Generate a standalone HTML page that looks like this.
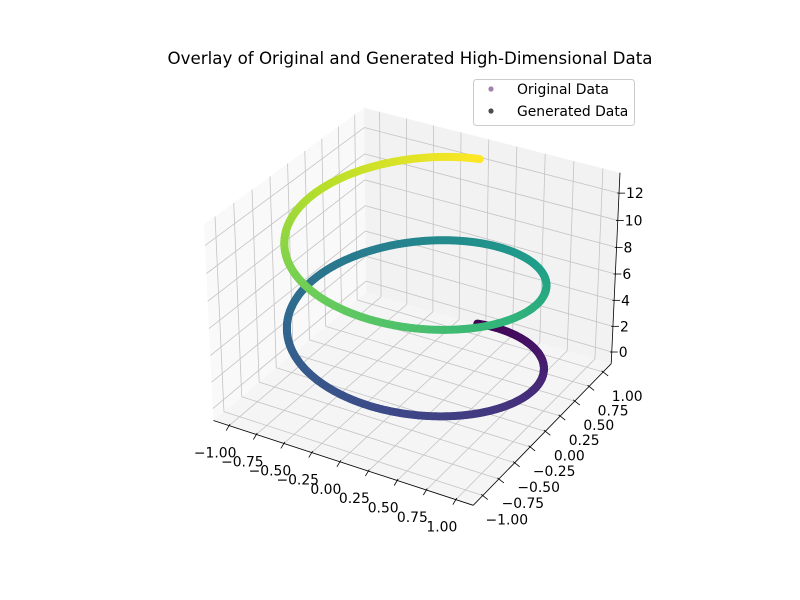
<!DOCTYPE html>
<html><head><meta charset="utf-8"><style>
html,body{margin:0;padding:0;background:#fff;}
svg{display:block;font-family:"DejaVu Sans","Liberation Sans",sans-serif;}
</style></head><body>
<svg id="chart" width="800" height="600" viewBox="0 0 800 600">
<rect width="800" height="600" fill="#fff"/>
<text x="410" y="64" text-anchor="middle" font-size="16.67" fill="#000">Overlay of Original and Generated High-Dimensional Data</text>
<g id="panes"></g>
<g id="grid"></g>
<g id="axes"></g>
<g id="points"></g>
<g>
<rect x="473.5" y="79.5" width="161" height="46" rx="3" fill="#fff" fill-opacity="0.8" stroke="#ccc"/>
<circle cx="491" cy="89" r="2.6" fill="#440154" fill-opacity="0.5"/>
<text x="517" y="94" font-size="13.9">Original Data</text>
<circle cx="491" cy="111" r="2.6" fill="#000" fill-opacity="0.7"/>
<text x="517" y="116" font-size="13.9">Generated Data</text>
</g>
</svg>
<script>
const xTicks = [-1, -0.75, -0.5, -0.25, 0, 0.25, 0.5, 0.75, 1];
const yTicks = [-1, -0.75, -0.5, -0.25, 0, 0.25, 0.5, 0.75, 1];
const zTicks = [0, 2, 4, 6, 8, 10, 12];
const xTickLabels = ["\u22121.00","\u22120.75","\u22120.50","\u22120.25","0.00","0.25","0.50","0.75","1.00"];
const yTickLabels = ["\u22121.00","\u22120.75","\u22120.50","\u22120.25","0.00","0.25","0.50","0.75","1.00"];
const zTickLabels = ["0","2","4","6","8","10","12"];
const tStart = 0;
const tEnd = 4 * Math.PI;
const nPoints = 1200;
const viridis = ["#440154","#482878","#3e4989","#31688e","#26828e","#1f9e89","#35b779","#6ece58","#b5de2b","#fde725"];

const NS = "http://www.w3.org/2000/svg";
const xlim = [-1.1, 1.1], ylim = [-1.1, 1.1], zlim = [tStart - 0.05*(tEnd-tStart), tEnd + 0.05*(tEnd-tStart)];
const asp = [4,4,3]; const nrm = Math.hypot(4,4,3);
const A = asp.map(a => a*1.8294640721620434/nrm);
const R = A.map(a => a/2);
const el = 30*Math.PI/180, az = -60*Math.PI/180;
const w = [Math.cos(el)*Math.cos(az), Math.cos(el)*Math.sin(az), Math.sin(el)];
let u = [-w[1], w[0], 0]; const un = Math.hypot(u[0],u[1]); u = u.map(c=>c/un);
const v = [w[1]*u[2]-w[2]*u[1], w[2]*u[0]-w[0]*u[2], w[0]*u[1]-w[1]*u[0]];
const S = 2500, CX = 416, CY = 297;
function proj(x,y,z){
  const d = [(x-xlim[0])/(xlim[1]-xlim[0])*A[0]-R[0], (y-ylim[0])/(ylim[1]-ylim[0])*A[1]-R[1], (z-zlim[0])/(zlim[1]-zlim[0])*A[2]-R[2]];
  const xv = u[0]*d[0]+u[1]*d[1]+u[2]*d[2];
  const yv = v[0]*d[0]+v[1]*d[1]+v[2]*d[2];
  const zv = w[0]*d[0]+w[1]*d[1]+w[2]*d[2] - 10;
  return [CX + S*xv/(-zv), CY - S*yv/(-zv), zv];
}
const dx = (xlim[1]-xlim[0])/48, dy = (ylim[1]-ylim[0])/48, dz = (zlim[1]-zlim[0])/48;
const X0 = xlim[0]-dx, X1 = xlim[1]+dx, Y0 = ylim[0]-dy, Y1 = ylim[1]+dy, Z0 = zlim[0]-dz, Z1 = zlim[1]+dz;
function poly(g, pts, fill, name){
  const p = document.createElementNS(NS,"polygon");
  p.setAttribute("points", pts.map(q=>{const r=proj(...q);return r[0].toFixed(1)+","+r[1].toFixed(1);}).join(" "));
  p.setAttribute("fill", fill);
  
  
  g.appendChild(p);
}
function line(g, a, b, stroke, sw, name){
  const p = document.createElementNS(NS,"line");
  const r1 = proj(...a), r2 = proj(...b);
  p.setAttribute("x1", r1[0]); p.setAttribute("y1", r1[1]);
  p.setAttribute("x2", r2[0]); p.setAttribute("y2", r2[1]);
  p.setAttribute("stroke", stroke); p.setAttribute("stroke-width", sw);
  
  
  g.appendChild(p);
  return [r1, r2];
}
const panes = document.getElementById("panes");
poly(panes, [[X0,Y0,Z0],[X0,Y1,Z0],[X0,Y1,Z1],[X0,Y0,Z1]], "#f9f9f9", "x-pane");
poly(panes, [[X0,Y1,Z0],[X1,Y1,Z0],[X1,Y1,Z1],[X0,Y1,Z1]], "#f2f2f2", "y-pane");
poly(panes, [[X0,Y0,Z0],[X1,Y0,Z0],[X1,Y1,Z0],[X0,Y1,Z0]], "#f5f5f5", "z-pane");
const grid = document.getElementById("grid");
const gc = "#c4c4c4";
xTicks.forEach(t=>{ line(grid,[t,Y0,Z0],[t,Y1,Z0],gc,0.8,"x-grid-floor"); line(grid,[t,Y1,Z0],[t,Y1,Z1],gc,0.8,"x-grid-wall"); });
yTicks.forEach(t=>{ line(grid,[X0,t,Z0],[X1,t,Z0],gc,0.8,"y-grid-floor"); line(grid,[X0,t,Z0],[X0,t,Z1],gc,0.8,"y-grid-wall"); });
zTicks.forEach(t=>{ line(grid,[X0,Y0,t],[X0,Y1,t],gc,0.8,"z-grid-xwall"); line(grid,[X0,Y1,t],[X1,Y1,t],gc,0.8,"z-grid-ywall"); });
const axes = document.getElementById("axes");
line(axes,[X0,Y0,Z0],[X1,Y0,Z0],"#000",0.8,"x-axis-line");
line(axes,[X1,Y0,Z0],[X1,Y1,Z0],"#000",0.8,"y-axis-line");
line(axes,[X1,Y1,Z0],[X1,Y1,Z1],"#000",0.8,"z-axis-line");
function tickLabel(txt,x,y,anchor,name){
  const t = document.createElementNS(NS,"text");
  t.setAttribute("x",x); t.setAttribute("y",y); t.setAttribute("font-size","13.9");
  t.setAttribute("text-anchor",anchor);
  t.textContent = txt;
  
  
  axes.appendChild(t);
}
function tickMark(p, ox, oy, name){
  const l = document.createElementNS(NS,"line");
  l.setAttribute("x1",p[0]-ox*0.3); l.setAttribute("y1",p[1]-oy*0.3);
  l.setAttribute("x2",p[0]+ox); l.setAttribute("y2",p[1]+oy);
  l.setAttribute("stroke","#000"); l.setAttribute("stroke-width","0.8");
  
  
  axes.appendChild(l);
}
xTicks.forEach((t,i)=>{ const p = proj(t,Y0,Z0); tickMark(p,-3,5,"x-tick"); tickLabel(xTickLabels[i], p[0]-14, p[1]+32, "middle","x-tick-label"); });
yTicks.forEach((t,i)=>{ const p = proj(X1,t,Z0); tickMark(p,5,4,"y-tick"); tickLabel(yTickLabels[i], p[0]+24, p[1]+29, "middle","y-tick-label"); });
zTicks.forEach((t,i)=>{ const p = proj(X1,Y1,t); tickMark(p,6,0,"z-tick"); tickLabel(zTickLabels[i], p[0]+7, p[1]+5, "start","z-tick-label"); });
function hex(h){return [parseInt(h.slice(1,3),16),parseInt(h.slice(3,5),16),parseInt(h.slice(5,7),16)];}
function cmap(f){
  const s = f*(viridis.length-1); const i = Math.min(Math.floor(s), viridis.length-2); const r = s-i;
  const a = hex(viridis[i]), b = hex(viridis[i+1]);
  return "rgb("+a.map((c,k)=>Math.round(c+(b[k]-c)*r)).join(",")+")";
}
const pts = [];
for(let i=0;i<nPoints;i++){
  const t = tStart + (tEnd-tStart)*i/(nPoints-1);
  const p = proj(Math.sin(t), Math.cos(t), t);
  pts.push([p[0],p[1],p[2], cmap(i/(nPoints-1))]);
}
pts.sort((a,b)=>a[2]-b[2]);
const pg = document.getElementById("points");
pts.forEach(p=>{
  const c = document.createElementNS(NS,"circle");
  c.setAttribute("cx",p[0].toFixed(1)); c.setAttribute("cy",p[1].toFixed(1)); c.setAttribute("r","4");
  c.setAttribute("fill",p[3]);
  
  
  pg.appendChild(c);
});
</script>
</body></html>
